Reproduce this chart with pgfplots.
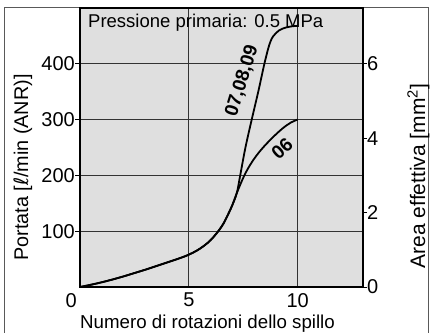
\documentclass[border=0pt]{standalone}
\usepackage{fontspec}
\setmainfont{Liberation Sans}
\newfontfamily\dejavu{DejaVu Sans}
\usepackage{pgfplots}
\pgfplotsset{compat=1.18}
\definecolor{bggray}{RGB}{223,223,223}
\begin{document}
\begin{tikzpicture}
\path[use as bounding box] (0,0) rectangle (430bp,333bp);
\draw[line width=0.9bp, black!65] (4bp,0) -- (4bp,326bp) -- (428bp,326bp) -- (428bp,0);
\begin{axis}[
  at={(80bp,46bp)}, anchor=south west,
  scale only axis, width=283bp, height=279bp,
  xmin=0, xmax=13, ymin=0, ymax=500,
  axis background/.style={fill=bggray},
  axis line style={line width=1.2bp},
  xtick={5,10}, ytick={100,200,300,400},
  grid=major, major grid style={line width=0.9bp, black!80},
  tick style={line width=1bp, black},
  xtick style={draw=none},
  ytick pos=left, xtick pos=bottom, tick align=outside, major tick length=5bp,
  /pgf/number format/assume math mode=true,
  ticklabel style={font=\fontsize{20bp}{21bp}\selectfont},
  xticklabel style={inner sep=0pt, anchor=north, yshift=-1bp},
  yticklabel style={inner sep=0pt, anchor=east},
  clip=false,
]
\addplot[black, line width=1.8bp, smooth, tension=0.6] coordinates {
 (0,0) (0.5,4) (1,8.5) (1.5,13.5) (2,19) (2.5,25) (3,31) (3.5,37.5) (4,44) (4.5,50.5) (5,58) (5.5,68.5) (6,84) (6.5,108) (6.8,130) (7,147) (7.2,168)
 (7.35,198) (7.6,250) (7.9,302) (8.2,352) (8.5,405) (8.75,440) (9,455) (9.3,463) (9.7,467) (10,468)};
\addplot[black, line width=1.8bp, smooth, tension=0.6] coordinates {
 (0,0) (0.5,4) (1,8.5) (1.5,13.5) (2,19) (2.5,25) (3,31) (3.5,37.5) (4,44) (4.5,50.5) (5,58) (5.5,68.5) (6,84) (6.5,108) (6.8,130) (7,147) (7.2,168)
 (7.55,200) (7.9,224) (8.3,245) (8.8,266) (9.3,284) (9.7,295) (10,300)};
\node[font=\bfseries\fontsize{19bp}{20bp}\selectfont, rotate=73, inner sep=0pt] at (axis cs:7.45,369) {07,08,09};
\node[font=\bfseries\fontsize{19bp}{20bp}\selectfont, rotate=42, inner sep=0pt] at (axis cs:9.28,248) {06};
\node[font=\fontsize{20bp}{21bp}\selectfont, inner sep=0pt, anchor=north east] at (axis cs:0,0) [xshift=-3bp, yshift=-6bp] {0};
\end{axis}
\begin{axis}[
  at={(80bp,46bp)}, anchor=south west,
  scale only axis, width=283bp, height=279bp,
  xmin=0, xmax=13, ymin=0, ymax=7.5,
  axis x line=none, axis y line*=right,
  axis line style={line width=1.2bp},
  ytick={0,2,4,6},
  tick style={line width=1bp, black},
  tick align=outside, major tick length=4bp,
  /pgf/number format/assume math mode=true,
  ticklabel style={font=\fontsize{20bp}{21bp}\selectfont},
  yticklabel style={inner sep=0pt, anchor=west},
]
\addplot[draw=none] coordinates {(0,0) (13,7.5)};
\end{axis}
\node[font=\fontsize{18.5bp}{19bp}\selectfont, anchor=base west, inner sep=0pt] at (88bp,305bp) {Pressione primaria: 0.5 MPa};
\node[font=\fontsize{18.7bp}{19bp}\selectfont, anchor=base, inner sep=0pt] at (207.5bp,5bp) {Numero di rotazioni dello spillo};
\node[font=\fontsize{19.8bp}{20bp}\selectfont, anchor=base, inner sep=0pt, rotate=90] at (28bp,165.5bp) {Portata [{\dejavu ℓ}/min (ANR)]};
\node[font=\fontsize{21bp}{22bp}\selectfont, anchor=base, inner sep=0pt, rotate=90] at (425bp,157bp) {Area effettiva [mm\textsuperscript{2}]};
\end{tikzpicture}
\end{document}
